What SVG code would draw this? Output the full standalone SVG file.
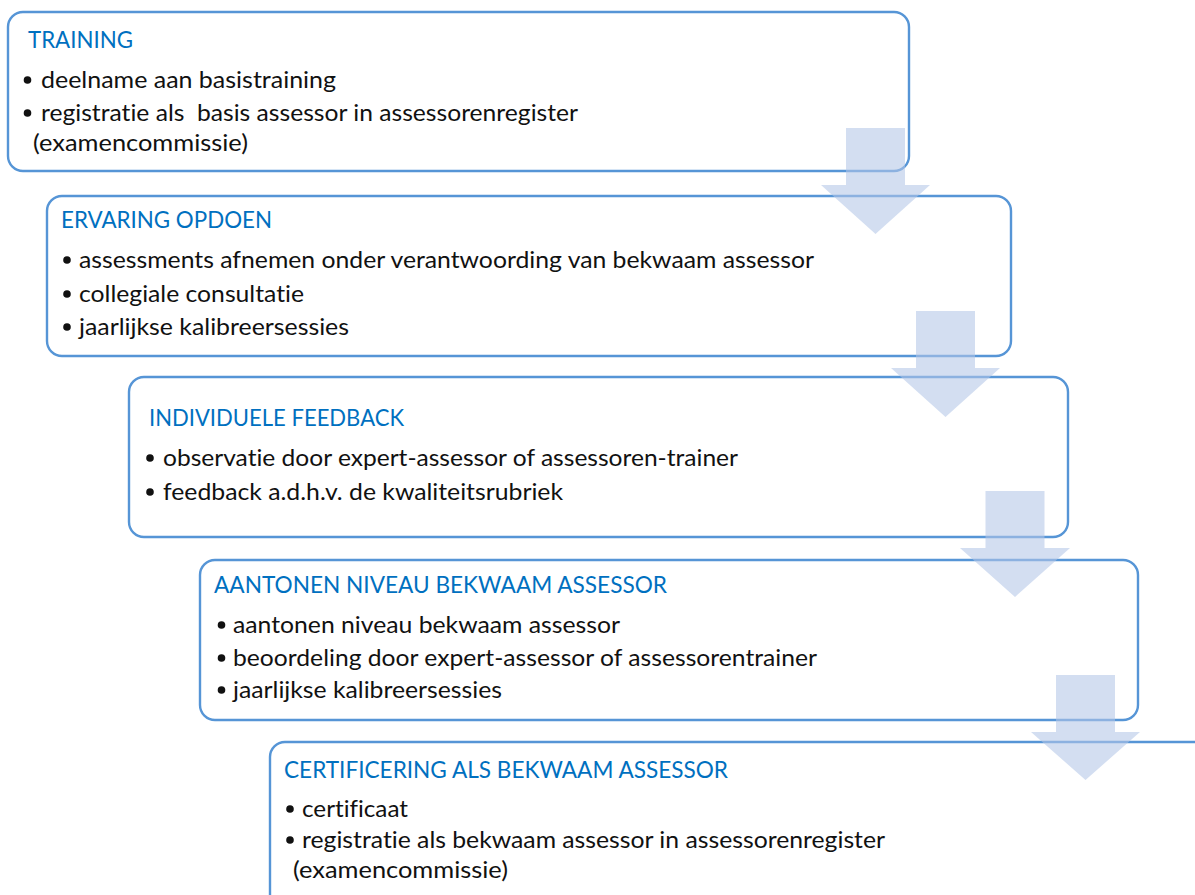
<svg xmlns="http://www.w3.org/2000/svg" width="1195" height="895" viewBox="0 0 1195 895">
<style>
.box{fill:#ffffff;stroke:#5695D6;stroke-width:2.4}
.t{font-family:Lato,"Noto Sans","Liberation Sans",sans-serif;font-size:24px;fill:#0070C0;white-space:pre;font-variant-ligatures:none}
.b{font-family:Lato,"Noto Sans","Liberation Sans",sans-serif;font-size:24px;fill:#111111;white-space:pre;font-variant-ligatures:none}
.dot{fill:#111111}
.arr{fill:#B4C7E7;fill-opacity:0.58}
</style>
<rect width="1195" height="895" fill="#ffffff"/>
<g id="node-training">
<rect class="box" x="8" y="12" width="901" height="159" rx="15"/>
<text class="t" x="28" y="48" textLength="105" lengthAdjust="spacingAndGlyphs">TRAINING</text>
<circle class="dot" cx="27.5" cy="80" r="3.8"/>
<text class="b" x="41" y="88" textLength="295" lengthAdjust="spacingAndGlyphs">deelname aan basistraining</text>
<circle class="dot" cx="27.5" cy="113" r="3.8"/>
<text class="b" x="41" y="121" textLength="537" lengthAdjust="spacingAndGlyphs">registratie als  basis assessor in assessorenregister</text>
<text class="b" x="33" y="151" textLength="215" lengthAdjust="spacingAndGlyphs">(examencommissie)</text>
</g>
<g id="node-ervaring">
<rect class="box" x="47" y="196" width="964" height="160" rx="15"/>
<text class="t" x="61" y="228" textLength="211" lengthAdjust="spacingAndGlyphs">ERVARING OPDOEN</text>
<circle class="dot" cx="67" cy="260" r="3.8"/>
<text class="b" x="79" y="268" textLength="735" lengthAdjust="spacingAndGlyphs">assessments afnemen onder verantwoording van bekwaam assessor</text>
<circle class="dot" cx="67" cy="294" r="3.8"/>
<text class="b" x="79" y="302" textLength="225" lengthAdjust="spacingAndGlyphs">collegiale consultatie</text>
<circle class="dot" cx="67" cy="327" r="3.8"/>
<text class="b" x="79" y="335" textLength="270" lengthAdjust="spacingAndGlyphs">jaarlijkse kalibreersessies</text>
</g>
<g id="node-feedback">
<rect class="box" x="129" y="377" width="939" height="160" rx="15"/>
<text class="t" x="149" y="426" textLength="255" lengthAdjust="spacingAndGlyphs">INDIVIDUELE FEEDBACK</text>
<circle class="dot" cx="150" cy="458" r="3.8"/>
<text class="b" x="163" y="466" textLength="575" lengthAdjust="spacingAndGlyphs">observatie door expert-assessor of assessoren-trainer</text>
<circle class="dot" cx="150" cy="492" r="3.8"/>
<text class="b" x="163" y="500" textLength="400" lengthAdjust="spacingAndGlyphs">feedback a.d.h.v. de kwaliteitsrubriek</text>
</g>
<g id="node-aantonen">
<rect class="box" x="200" y="560" width="938" height="160" rx="15"/>
<text class="t" x="214" y="593" textLength="453" lengthAdjust="spacingAndGlyphs">AANTONEN NIVEAU BEKWAAM ASSESSOR</text>
<circle class="dot" cx="221.5" cy="625" r="3.8"/>
<text class="b" x="233" y="633" textLength="387" lengthAdjust="spacingAndGlyphs">aantonen niveau bekwaam assessor</text>
<circle class="dot" cx="221.5" cy="658" r="3.8"/>
<text class="b" x="233" y="666" textLength="584" lengthAdjust="spacingAndGlyphs">beoordeling door expert-assessor of assessorentrainer</text>
<circle class="dot" cx="221.5" cy="690" r="3.8"/>
<text class="b" x="233" y="698" textLength="269" lengthAdjust="spacingAndGlyphs">jaarlijkse kalibreersessies</text>
</g>
<g id="node-certificering">
<rect class="box" x="270" y="742" width="1000" height="220" rx="15"/>
<text class="t" x="284" y="778" textLength="444" lengthAdjust="spacingAndGlyphs">CERTIFICERING ALS BEKWAAM ASSESSOR</text>
<circle class="dot" cx="290" cy="809" r="3.8"/>
<text class="b" x="302" y="817" textLength="106" lengthAdjust="spacingAndGlyphs">certificaat</text>
<circle class="dot" cx="290" cy="840" r="3.8"/>
<text class="b" x="302" y="848" textLength="583" lengthAdjust="spacingAndGlyphs">registratie als bekwaam assessor in assessorenregister</text>
<text class="b" x="293" y="878" textLength="215" lengthAdjust="spacingAndGlyphs">(examencommissie)</text>
</g>
<g id="connectors">
<polygon class="arr" points="846,128 905,128 905,185 930,185 875.5,234 821,185 846,185"/>
<polygon class="arr" points="916,311 975,311 975,368 1000,368 945.5,417 891,368 916,368"/>
<polygon class="arr" points="985.5,491 1044.5,491 1044.5,548 1070,548 1015,597 960,548 985.5,548"/>
<polygon class="arr" points="1056,675 1115,675 1115,732 1140,732 1085.5,780 1031,732 1056,732"/>
</g>
</svg>
